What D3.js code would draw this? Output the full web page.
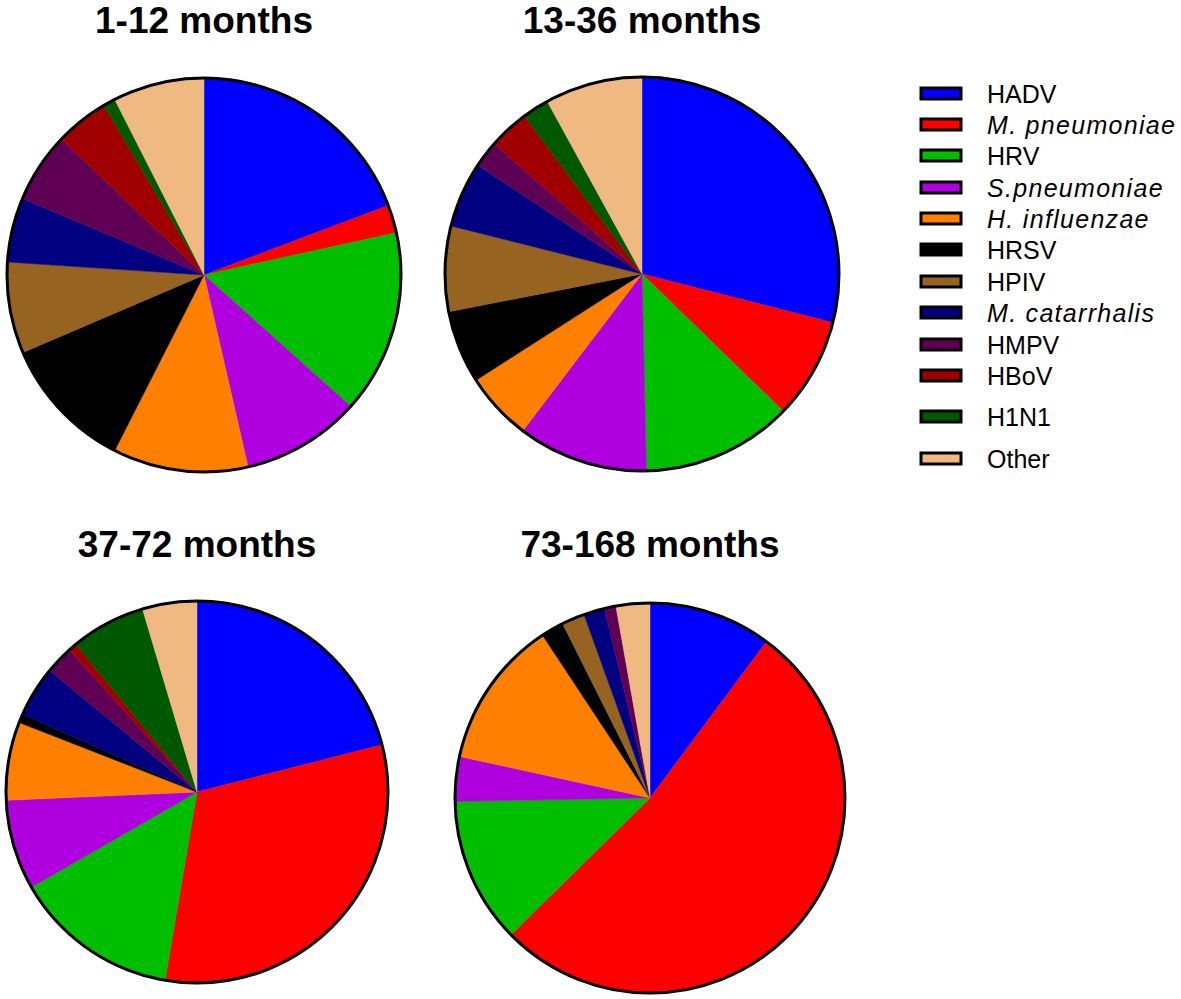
<!DOCTYPE html>
<html>
<head>
<meta charset="utf-8">
<script src="https://cdn.jsdelivr.net/npm/d3@7"></script>
<style>
  html, body { margin: 0; padding: 0; background: #ffffff; }
  svg { display: block; }
</style>
</head>
<body>
<svg id="chart" width="1181" height="999"></svg>
<script>
// ---- data ----
const categories = ["HADV", "M. pneumoniae", "HRV", "S.pneumoniae", "H. influenzae", "HRSV",
                    "HPIV", "M. catarrhalis", "HMPV", "HBoV", "H1N1", "Other"];
const italicCategories = ["M. pneumoniae", "S.pneumoniae", "H. influenzae", "M. catarrhalis"];
const colors = ["#0000ff", "#ff0000", "#00bf00", "#b000e0", "#ff8000", "#000000",
                "#966321", "#000080", "#600055", "#a00000", "#005800", "#f0b982"];
const panelTitles = ["1-12 months", "13-36 months", "37-72 months", "73-168 months"];
const values1to12 = [19.3, 2.3, 15.1, 9.8, 11.1, 11.1, 7.5, 5.3, 5.8, 4.4, 1.0, 7.5];
const values13to36 = [29.0, 8.3, 12.4, 10.7, 5.6, 6.0, 7.0, 5.4, 2.2, 3.3, 2.2, 8.0];
const values37to72 = [21.0, 31.6, 14.0, 7.6, 6.6, 0.75, 0, 4.3, 2.4, 0.7, 6.3, 4.6];
const values73to168 = [10.2, 52.5, 12.1, 3.7, 12.3, 1.9, 1.9, 1.75, 0.95, 0, 0, 2.8];
const seriesValues = [values1to12, values13to36, values37to72, values73to168];

// ---- layout ----
const panels = [
  { cx: 204, cy: 275, r: 197, titleY: 33 },
  { cx: 642, cy: 274, r: 197, titleY: 33 },
  { cx: 197, cy: 792, r: 191, titleY: 557 },
  { cx: 650, cy: 798, r: 195, titleY: 557 }
];

const svg = d3.select("#chart");
const color = d3.scaleOrdinal().domain(categories).range(colors);
const pie = d3.pie().sort(null).value(d => d.value).startAngle(0).endAngle(2 * Math.PI);

panels.forEach((p, i) => {
  const data = categories.map((c, j) => ({ category: c, value: seriesValues[i][j] }));
  const arc = d3.arc().innerRadius(0).outerRadius(p.r);
  const g = svg.append("g").attr("transform", `translate(${p.cx},${p.cy})`);
  g.selectAll("path.slice")
    .data(pie(data).filter(d => d.data.value > 0))
    .join("path")
    .attr("class", "slice")
    .attr("d", arc)
    .attr("fill", d => color(d.data.category))
    .attr("stroke", d => color(d.data.category))
    .attr("stroke-width", 0.5);
  g.append("circle")
    .attr("r", p.r)
    .attr("fill", "none")
    .attr("stroke", "#000")
    .attr("stroke-width", 3);
  svg.append("text")
    .attr("x", p.cx)
    .attr("y", p.titleY)
    .attr("text-anchor", "middle")
    .attr("font-family", "'Liberation Sans', Arial, sans-serif")
    .attr("font-weight", "bold")
    .attr("font-size", 37)
    .attr("fill", "#000")
    .text(panelTitles[i]);
});

// ---- legend ----
const legendRowY = [94, 125, 156, 188, 219, 250, 282, 313, 345, 376, 417, 459];
const legend = svg.append("g");
categories.forEach((c, j) => {
  const y = legendRowY[j];
  const isItalic = italicCategories.includes(c);
  legend.append("rect")
    .attr("x", 921).attr("y", y - 6)
    .attr("width", 40).attr("height", 11)
    .attr("fill", color(c))
    .attr("stroke", "#000").attr("stroke-width", 3);
  legend.append("text")
    .attr("x", 987).attr("y", y + 9)
    .attr("font-family", "'Liberation Sans', Arial, sans-serif")
    .attr("font-size", 25)
    .attr("font-style", isItalic ? "italic" : "normal")
    .attr("letter-spacing", isItalic ? 1.3 : 0)
    .attr("fill", "#000")
    .text(c);
});
</script>
</body>
</html>
